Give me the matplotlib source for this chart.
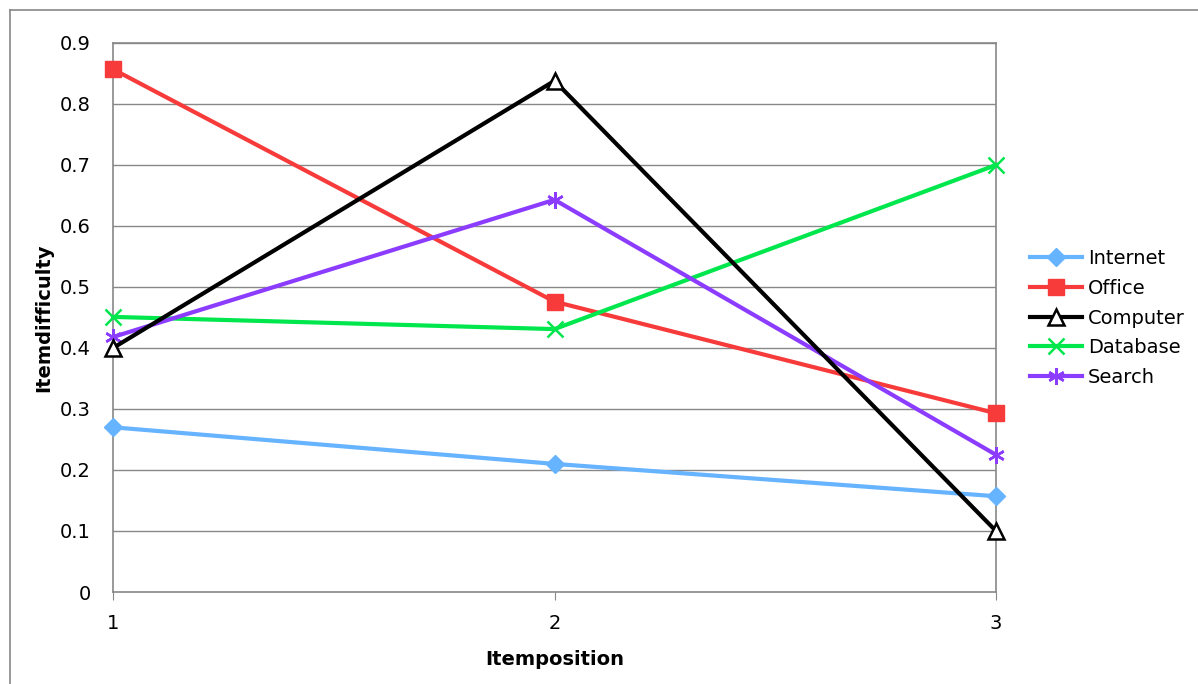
import matplotlib
matplotlib.use('agg')
from matplotlib import pyplot as plt
from matplotlib.lines import Line2D

positions = [1, 2, 3]
internet = [0.27, 0.21, 0.157]
office = [0.857, 0.476, 0.293]
computer = [0.40, 0.838, 0.10]
database = [0.451, 0.431, 0.70]
search = [0.418, 0.643, 0.225]
yticks = [0, 0.1, 0.2, 0.3, 0.4, 0.5, 0.6, 0.7, 0.8, 0.9]
ytick_labels = ['0', '0.1', '0.2', '0.3', '0.4', '0.5', '0.6', '0.7', '0.8', '0.9']

W, H = 1198, 684
fig = plt.figure(figsize=(W / 100, H / 100), dpi=100)
ax = fig.add_axes([113 / W, 1 - 592 / H, (996 - 113) / W, (592 - 43) / H])

# outer chart frame (only top and left edges visible)
fig.add_artist(Line2D([10 / W, 10 / W], [1 - 10 / H, 0], color='#888888', lw=1.2))
fig.add_artist(Line2D([10 / W, 1], [1 - 10 / H, 1 - 10 / H], color='#888888', lw=1.2))

for y in yticks[1:]:
    ax.axhline(y, color='#888888', lw=1.0, zorder=1)

lw = 3
ax.plot(positions, internet, color='#66b3ff', lw=lw, marker='D', ms=9, label='Internet', zorder=3, clip_on=False)
ax.plot(positions, office, color='#f73b3b', lw=lw, marker='s', ms=12, label='Office', zorder=3, clip_on=False)
ax.plot(positions, computer, color='black', lw=lw, marker='^', ms=11, mfc='white', mec='black',
        mew=1.8, label='Computer', zorder=4, clip_on=False)
ax.plot(positions, database, color='#00e64d', lw=lw, marker='x', ms=11, mew=1.8, label='Database', zorder=3, clip_on=False)
ax.plot(positions, search, color='#8c3cff', lw=lw, marker=(6, 2, 0), ms=12, mew=1.8, label='Search', zorder=3, clip_on=False)

ax.set_xlim(1, 3)
ax.set_ylim(0, 0.9)
ax.set_xticks(positions)
ax.set_yticks(yticks)
ax.set_yticklabels(ytick_labels)
ax.tick_params(axis='y', length=0, pad=16, labelsize=14)
ax.tick_params(axis='x', length=6, color='#888888', pad=10, labelsize=14)
for s in ax.spines.values():
    s.set_color('#888888')
    s.set_linewidth(1.2)

ax.set_ylabel('Itemdifficulty', fontsize=14, fontweight='bold', labelpad=5)
ax.set_xlabel('Itemposition', fontsize=14, fontweight='bold', labelpad=12)

fig.legend(loc='center left', bbox_to_anchor=(1012 / W, 1 - 318 / H), frameon=False,
           fontsize=14, handlelength=2.7, labelspacing=0.55, handletextpad=0.3)

plt.savefig('out.png', dpi=100)
